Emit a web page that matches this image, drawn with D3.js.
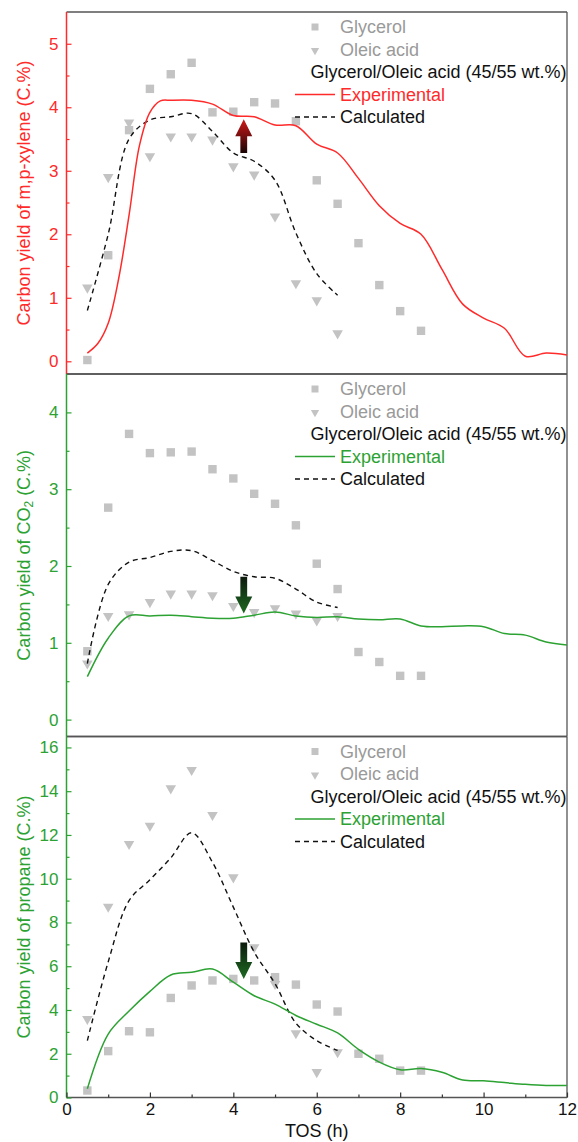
<!DOCTYPE html>
<html><head><meta charset="utf-8">
<script src="https://cdn.jsdelivr.net/npm/d3@7"></script>
<style>body{margin:0;background:#fff}svg{display:block;font-family:"Liberation Sans",Arial,sans-serif}</style>
</head><body><svg id="c" width="578" height="1142"></svg>
<script>
// ---------- data ----------
const tos = [0.5,1,1.5,2,2.5,3,3.5,4,4.5,5,5.5,6,6.5,7,7.5,8,8.5];
const tosExp = [0.5,1,1.5,2,2.5,3,3.5,4,4.5,5,5.5,6,6.5,7,7.5,8,8.5,9,9.5,10,10.5,11,11.5,12];
const tosOle = [0.5,1,1.5,2,2.5,3,3.5,4,4.5,5,5.5,6,6.5];
const tosXylExp = [0.5,0.75,1,1.25,1.5,1.75,2,2.25,2.5,3,3.5,4,4.5,5,5.5,6,6.5,7,7.5,8,8.5,9,9.5,10,10.5,11,11.5,12];

// m,p-xylene
const xylGlycerol = [0.02,1.67,3.64,4.29,4.52,4.70,3.92,3.93,4.08,4.06,3.78,2.85,2.48,1.86,1.20,0.79,0.48];
const xylOleic = [1.16,2.90,3.76,3.23,3.54,3.54,3.49,3.07,2.94,2.28,1.23,0.96,0.44];
const xylExp = [0.13,0.28,0.6,1.3,2.3,3.4,3.92,4.1,4.11,4.11,4.05,3.87,3.85,3.72,3.71,3.42,3.28,2.88,2.45,2.17,2.0,1.45,0.9,0.68,0.52,0.08,0.13,0.1];
const xylCalc = [0.8,2.0,3.5,3.8,3.85,3.9,3.62,3.28,3.15,2.85,2.02,1.38,1.04];

// CO2
const co2Glycerol = [0.89,2.76,3.72,3.47,3.48,3.49,3.26,3.14,2.94,2.81,2.53,2.03,1.70,0.88,0.75,0.57,0.57];
const co2Oleic = [0.73,1.35,1.37,1.53,1.64,1.64,1.62,1.48,1.40,1.45,1.38,1.29,1.35];
const co2Exp = [0.56,1.06,1.35,1.35,1.36,1.34,1.32,1.32,1.36,1.40,1.35,1.33,1.34,1.31,1.30,1.31,1.22,1.21,1.22,1.21,1.12,1.10,1.01,0.97];
const co2Calc = [0.73,1.76,2.05,2.11,2.19,2.20,2.07,1.93,1.86,1.84,1.70,1.53,1.46];

// propane
const proGlycerol = [0.32,2.12,3.03,2.98,4.55,5.12,5.35,5.42,5.35,5.50,5.16,4.25,3.93,2.00,1.77,1.23,1.23];
const proOleic = [3.59,8.72,11.59,12.42,14.13,14.97,12.91,10.06,6.87,5.19,2.94,1.16,2.07];
const proExp = [0.4,2.9,3.95,4.85,5.6,5.72,5.87,5.27,4.65,4.27,3.75,3.35,2.95,2.2,1.62,1.27,1.32,1.15,0.8,0.76,0.68,0.6,0.55,0.55];
const proCalc = [2.6,6.2,9.0,9.95,10.95,12.1,10.75,8.7,6.65,5.2,3.4,2.6,2.15];

// arrows: [x, from, to]
const xylArrow = [4.25, 3.28, 3.81];
const co2Arrow = [4.25, 1.86, 1.38];
const proArrow = [4.25, 7.09, 5.42];

const xTicks = [0,2,4,6,8,10,12];
const xylTicks = [0,1,2,3,4,5];
const co2Ticks = [0,1,2,3,4];
const proTicks = [0,2,4,6,8,10,12,14,16];
const legendLabels = ["Glycerol","Oleic acid","Glycerol/Oleic acid (45/55 wt.%)","Experimental","Calculated"];

// ---------- drawing ----------
const svg = d3.select("#c");
const L = 66.5, R = 567;
const x = d3.scaleLinear().domain([0,12]).range([L,R]);
const RED = "#ff2a2a", GREEN = "#2ca233", GRAY = "#c3c3c3", FRAME = "#555";
const TICKFS = "17px", LABFS = "18px";
const defs = svg.append("defs");
function grad(id, c1, c2){
  const g = defs.append("linearGradient").attr("id",id).attr("x1",0).attr("x2",0).attr("y1",0).attr("y2",1);
  g.append("stop").attr("offset","0%").attr("stop-color",c1);
  g.append("stop").attr("offset","100%").attr("stop-color",c2);
}
grad("gRed","#d01818","#1a0505");
grad("gGreen","#0c1a0c","#1e6a22");

function panel(o){
  const y = d3.scaleLinear().domain(o.domain).range([o.bottom,o.top]);
  const g = svg.append("g");
  g.append("line").attr("x1",L).attr("x2",R).attr("y1",o.top).attr("y2",o.top).attr("stroke",FRAME).attr("stroke-width",1.3);
  g.append("line").attr("x1",R).attr("x2",R).attr("y1",o.top).attr("y2",o.bottom).attr("stroke",FRAME).attr("stroke-width",1.3);
  g.append("line").attr("x1",L).attr("x2",R).attr("y1",o.bottom).attr("y2",o.bottom).attr("stroke",FRAME).attr("stroke-width",1.3);

  const ya = d3.axisLeft(y).tickValues(o.ticks).tickSize(-5).tickPadding(8).tickFormat(d3.format("d"));
  const ax = g.append("g").attr("transform",`translate(${L},0)`).call(ya);
  ax.select(".domain").remove();
  ax.selectAll("line").attr("stroke",o.color).attr("stroke-width",1.2);
  ax.selectAll("text").attr("fill",o.color).style("font-size",TICKFS).style("font-family","Liberation Sans, Arial, sans-serif");
  const ym = d3.axisLeft(y).tickValues(o.minor).tickSize(-3).tickFormat("");
  const axm = g.append("g").attr("transform",`translate(${L},0)`).call(ym);
  axm.select(".domain").remove();
  axm.selectAll("line").attr("stroke",o.color).attr("stroke-width",1.2);
  g.append("line").attr("x1",L).attr("x2",L).attr("y1",o.top).attr("y2",o.bottom).attr("stroke",o.color).attr("stroke-width",1.5);

  const tt = g.append("text").attr("transform",`translate(24,${(o.top+o.bottom)/2}) rotate(-90)`)
    .attr("text-anchor","middle").attr("dominant-baseline","central").attr("fill",o.color).style("font-size",LABFS);
  o.title(tt);

  const cid = "clip"+o.id;
  defs.append("clipPath").attr("id",cid).append("rect").attr("x",L).attr("y",o.top).attr("width",R-L).attr("height",o.bottom-o.top);
  const pg = g.append("g").attr("clip-path",`url(#${cid})`);

  pg.selectAll(".sq").data(o.gly).enter().append("rect")
    .attr("x",(d,i)=>x(tos[i])-4.2).attr("y",d=>y(d)-4.2).attr("width",8.4).attr("height",8.4).attr("fill",GRAY);
  const tri = d3.symbol().type(d3.symbolTriangle).size(48);
  pg.selectAll(".tr").data(o.ole).enter().append("path")
    .attr("d",tri).attr("transform",(d,i)=>`translate(${x(tosOle[i])},${y(d)}) rotate(180)`).attr("fill",GRAY);

  const line = d3.line().curve(d3.curveCatmullRom.alpha(0.5));
  pg.append("path").datum(o.calc.map((d,i)=>[x(tosOle[i]),y(d)])).attr("d",line)
    .attr("fill","none").attr("stroke","#111").attr("stroke-width",1.4).attr("stroke-dasharray","5,4");
  pg.append("path").datum(o.exp.map((d,i)=>[x(o.expX[i]),y(d)])).attr("d",line)
    .attr("fill","none").attr("stroke",o.color).attr("stroke-width",1.5);

  const [ax0,a1,a2] = o.arrow;
  const xa = x(ax0), y1 = y(a1), y2 = y(a2);
  const dir = Math.sign(y2-y1);
  const hl = 17, hw = 8.5, sw = 3.4;
  const yb = y2 - dir*hl;
  const pts = [[xa-sw,y1],[xa+sw,y1],[xa+sw,yb],[xa+hw,yb],[xa,y2],[xa-hw,yb],[xa-sw,yb]];
  g.append("path").attr("d","M"+pts.map(p=>p.join(",")).join("L")+"Z").attr("fill",`url(#${o.grad})`);

  const lx = 340, ly = o.top + 15, sp = 22.5;
  const lg = g.append("g").style("font-size",LABFS);
  lg.append("rect").attr("x",315-3.5).attr("y",ly-3.5).attr("width",7).attr("height",7).attr("fill",GRAY);
  lg.append("path").attr("d",d3.symbol().type(d3.symbolTriangle).size(30)).attr("transform",`translate(315,${ly+sp+1}) rotate(180)`).attr("fill",GRAY);
  lg.append("text").attr("x",lx).attr("y",ly).attr("dominant-baseline","central").attr("fill","#9a9a9a").text(legendLabels[0]);
  lg.append("text").attr("x",lx).attr("y",ly+sp).attr("dominant-baseline","central").attr("fill","#9a9a9a").text(legendLabels[1]);
  lg.append("text").attr("x",310.5).attr("y",ly+2*sp).attr("dominant-baseline","central").attr("fill","#111").text(legendLabels[2]);
  lg.append("line").attr("x1",295).attr("x2",335).attr("y1",ly+3*sp).attr("y2",ly+3*sp).attr("stroke",o.color).attr("stroke-width",1.5);
  lg.append("text").attr("x",lx).attr("y",ly+3*sp).attr("dominant-baseline","central").attr("fill",o.color).text(legendLabels[3]);
  lg.append("line").attr("x1",295).attr("x2",335).attr("y1",ly+4*sp).attr("y2",ly+4*sp).attr("stroke","#111").attr("stroke-width",1.4).attr("stroke-dasharray","5,4");
  lg.append("text").attr("x",lx).attr("y",ly+4*sp).attr("dominant-baseline","central").attr("fill","#111").text(legendLabels[4]);
  return y;
}

panel({id:1, top:12, bottom:374, domain:[-0.2,5.5], ticks:xylTicks, minor:d3.range(0.5,5.5,1), color:RED,
  gly:xylGlycerol, ole:xylOleic, exp:xylExp, expX:tosXylExp, calc:xylCalc, arrow:xylArrow, grad:"gRed",
  title:t=>t.text("Carbon yield of m,p-xylene (C.%)")});
panel({id:2, top:374, bottom:736.5, domain:[-0.22,4.5], ticks:co2Ticks, minor:d3.range(0.5,4.5,1), color:GREEN,
  gly:co2Glycerol, ole:co2Oleic, exp:co2Exp, expX:tosExp, calc:co2Calc, arrow:co2Arrow, grad:"gGreen",
  title:t=>{t.append("tspan").text("Carbon yield of CO");t.append("tspan").attr("dy",5).style("font-size","12px").text("2");t.append("tspan").attr("dy",-5).text(" (C.%)");}});
panel({id:3, top:736.5, bottom:1097.5, domain:[0,16.5], ticks:proTicks, minor:d3.range(1,16.5,2), color:GREEN,
  gly:proGlycerol, ole:proOleic, exp:proExp, expX:tosExp, calc:proCalc, arrow:proArrow, grad:"gGreen",
  title:t=>t.text("Carbon yield of propane (C.%)")});

const xa = d3.axisBottom(x).tickValues(xTicks).tickSize(-5).tickPadding(5).tickFormat(d3.format("d"));
const xg = svg.append("g").attr("transform","translate(0,1097.5)").call(xa);
xg.select(".domain").remove();
xg.selectAll("line").attr("stroke","#333").attr("stroke-width",1.2);
xg.selectAll("text").attr("fill","#111").style("font-size",TICKFS);
const xm = svg.append("g").attr("transform","translate(0,1097.5)").call(d3.axisBottom(x).tickValues(d3.range(1,12,2)).tickSize(-3).tickFormat(""));
xm.select(".domain").remove();
xm.selectAll("line").attr("stroke","#333").attr("stroke-width",1.2);
svg.append("text").attr("x",(L+R)/2).attr("y",1137).attr("text-anchor","middle").attr("fill","#111").style("font-size",LABFS).text("TOS (h)");
</script></body></html>
